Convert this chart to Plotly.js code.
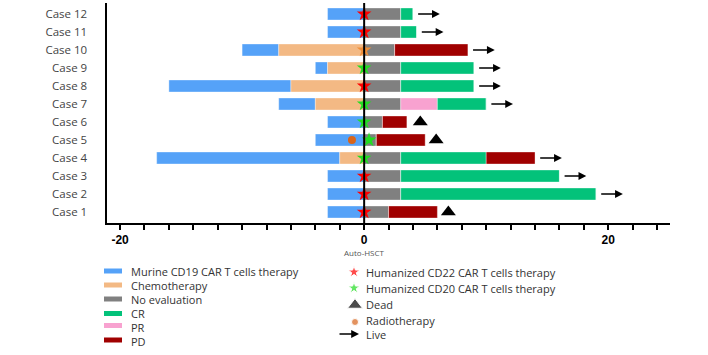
<!DOCTYPE html>
<html><head><meta charset="utf-8">
<script src="https://cdn.plot.ly/plotly-3.0.1.min.js"></script>
<style>html,body{margin:0;padding:0;background:#fff}#chart{width:708px;height:355px}</style>
</head><body><div id="chart"></div>
<script>
// ---- data ----
const cases = ['Case 1','Case 2','Case 3','Case 4','Case 5','Case 6','Case 7','Case 8','Case 9','Case 10','Case 11','Case 12'];
// pre-transplant side (months before Auto-HSCT)
const murineDur = [3,3,3,15,4,3,3,10,1,3,3,3];
const chemoDur  = [0,0,0,2,0,0,4,6,3,7,0,0];
// post-transplant segments, in drawing order
const noEvalDur = [2,3,3,3,1,1.5,3,3,3,2.5,3,3];
const prDur     = [0,0,0,0,0,0,3,0,0,0,0,0];
const crDur     = [0,16,13,7,0,0,4,6,6,0,1.3,1];
const pdDur     = [4,0,0,4,4,2,0,0,0,6,0,0];
// markers
const starType  = ['CD22','CD22','CD22','CD20','CD20','CD20','CD20','CD22','CD20','other','CD22','CD22'];
const starX     = [0,0,0,0,0.4,0,0,0,0,0,0,0];
const deadX     = [6.9,null,null,null,5.9,4.6,null,null,null,null,null,null];
const radioX    = [null,null,null,null,-1,null,null,null,null,null,null,null];
const alive     = [false,true,true,true,false,false,true,true,true,true,true,true];
const xTickVals = [-20,0,20];

const COL = {murine:'#55a2f8', chemo:'#f3b984', noeval:'#808080', cr:'#03c27a', pr:'#f8a2d0', pd:'#a00000',
  CD22:'#ff0000', CD20:'#22dd22', other:'#ef8f3a', dead:'#000000', radio:'#d8651c'};

const yPos = cases.map((c,i)=>i+1);
const traces = [];
function barTrace(len, base, color){
  return {type:'bar', orientation:'h', y:yPos, x:len, base:base, width:0.667,
    marker:{color:color, line:{color:'rgba(255,255,255,0.35)', width:1}},
    xaxis:'x', yaxis:'y', showlegend:false, hoverinfo:'skip'};
}
// negative side
traces.push(barTrace(murineDur, murineDur.map((d,i)=>-(d+chemoDur[i])), COL.murine));
traces.push(barTrace(chemoDur, chemoDur.map(d=>-d), COL.chemo));
// positive side stacked
let cum = cases.map(()=>0);
[[noEvalDur,COL.noeval],[prDur,COL.pr],[crDur,COL.cr],[pdDur,COL.pd]].forEach(([arr,col])=>{
  traces.push(barTrace(arr, cum.slice(), col));
  cum = cum.map((c,i)=>c+arr[i]);
});
// stars
traces.push({type:'scatter', mode:'markers', x:starX, y:yPos, xaxis:'x', yaxis:'y',
  marker:{symbol:'star', size:11, color:starType.map(t=>COL[t])}, showlegend:false, hoverinfo:'skip'});
// dead
traces.push({type:'scatter', mode:'markers', x:deadX, y:yPos, xaxis:'x', yaxis:'y',
  marker:{symbol:'triangle-up', size:13, color:COL.dead}, showlegend:false, hoverinfo:'skip'});
// radiotherapy
traces.push({type:'scatter', mode:'markers', x:radioX, y:yPos, xaxis:'x', yaxis:'y',
  marker:{symbol:'circle', size:8, color:COL.radio}, showlegend:false, hoverinfo:'skip'});

// arrows for live patients
const annotations = [];
cases.forEach((c,i)=>{
  if(!alive[i]) return;
  const end = cum[i];
  annotations.push({xref:'x', yref:'y', axref:'x', ayref:'y', x:end+2.2, y:yPos[i], ax:end+0.3, ay:yPos[i],
    showarrow:true, arrowhead:2, arrowsize:1.2, arrowwidth:1.3, arrowcolor:'#000', text:''});
});

// ---- legend (layout, in pixel coordinates of overlay axes) ----
const W=708, H=355;
const legLeft = [
  ['Murine CD19 CAR T cells therapy', COL.murine, 271, 271],
  ['Chemotherapy', COL.chemo, 285, 285],
  ['No evaluation', COL.noeval, 299, 299],
  ['CR', COL.cr, 313.5, 313],
  ['PR', COL.pr, 325.5, 327],
  ['PD', COL.pd, 340, 341]
];
const shapes = [];
const LF = {family:'Open Sans', size:11, color:'#333'};
legLeft.forEach(([t,c,ys,yt])=>{
  shapes.push({type:'rect', xref:'x2', yref:'y2', x0:104, x1:122, y0:ys-2.5, y1:ys+2.5, fillcolor:c, line:{width:0}});
  annotations.push({xref:'x2', yref:'y2', x:131, y:yt, text:t, showarrow:false, xanchor:'left', yanchor:'middle',
    font:LF, borderpad:0, borderwidth:0});
});
const legRight = [
  ['Humanized CD22 CAR T cells therapy', 272],
  ['Humanized CD20 CAR T cells therapy', 288],
  ['Dead', 304],
  ['Radiotherapy', 320],
  ['Live', 334]
];
legRight.forEach(([t,y])=>{
  annotations.push({xref:'x2', yref:'y2', x:366, y:y, text:t, showarrow:false, xanchor:'left', yanchor:'middle',
    font:LF, borderpad:0, borderwidth:0});
});
traces.push({type:'scatter', mode:'markers', xaxis:'x2', yaxis:'y2',
  x:[354,354,355,355], y:[272,288,305,322],
  marker:{symbol:['star','star','triangle-up','circle'], size:[9,9,13,7], color:[COL.CD22,COL.CD20,COL.dead,COL.radio]},
  showlegend:false, hoverinfo:'skip'});
annotations.push({xref:'x2', yref:'y2', axref:'x2', ayref:'y2', x:359, y:334, ax:338, ay:334, showarrow:true,
  arrowhead:2, arrowsize:1.2, arrowwidth:1.3, arrowcolor:'#000', text:''});
// Auto-HSCT label under 0
annotations.push({xref:'x', yref:'y2', x:0, y:252.5, text:'Auto-HSCT', showarrow:false, borderpad:0, borderwidth:0,
  font:{family:'Open Sans', size:8, color:'#555'}});

// vertical line at 0
shapes.push({type:'line', xref:'x', yref:'paper', x0:0, x1:0, y0:1-223/H, y1:1-3/H, line:{color:'#000', width:2}});

const tickVals=[]; for(let v=-20; v<=24; v+=2) tickVals.push(v);
const layout = {
  width:W, height:H, margin:{l:0,r:0,t:0,b:0}, paper_bgcolor:'#fff', plot_bgcolor:'rgba(0,0,0,0)',
  barmode:'overlay', showlegend:false,
  xaxis:{domain:[107/W, 670/W], range:[-21.07, 25.06], showgrid:false, zeroline:false,
    showline:true, linecolor:'#000', linewidth:2, ticks:'outside', ticklen:5, tickwidth:2, tickcolor:'#000',
    tickvals:tickVals, ticktext:tickVals.map(v=>xTickVals.includes(v)?String(v):''),
    tickfont:{family:'Liberation Sans', size:12, color:'#000', weight:'bold'}, anchor:'y'},
  yaxis:{domain:[1-223/H, 1-3/H], range:[0.39, 12.61], showgrid:false, zeroline:false,
    showline:true, linecolor:'#000', linewidth:2.5, ticks:'', tickvals:yPos, ticktext:cases,
    ticklabelstandoff:15, tickfont:{family:'Open Sans', size:11.5, color:'#444'}, anchor:'x'},
  xaxis2:{domain:[0,1], range:[0,W], visible:false, anchor:'y2', fixedrange:true},
  yaxis2:{domain:[0,1], range:[H,0], visible:false, anchor:'x2', fixedrange:true},
  shapes:shapes, annotations:annotations
};
Plotly.newPlot('chart', traces, layout, {displayModeBar:false, staticPlot:true});
</script></body></html>
